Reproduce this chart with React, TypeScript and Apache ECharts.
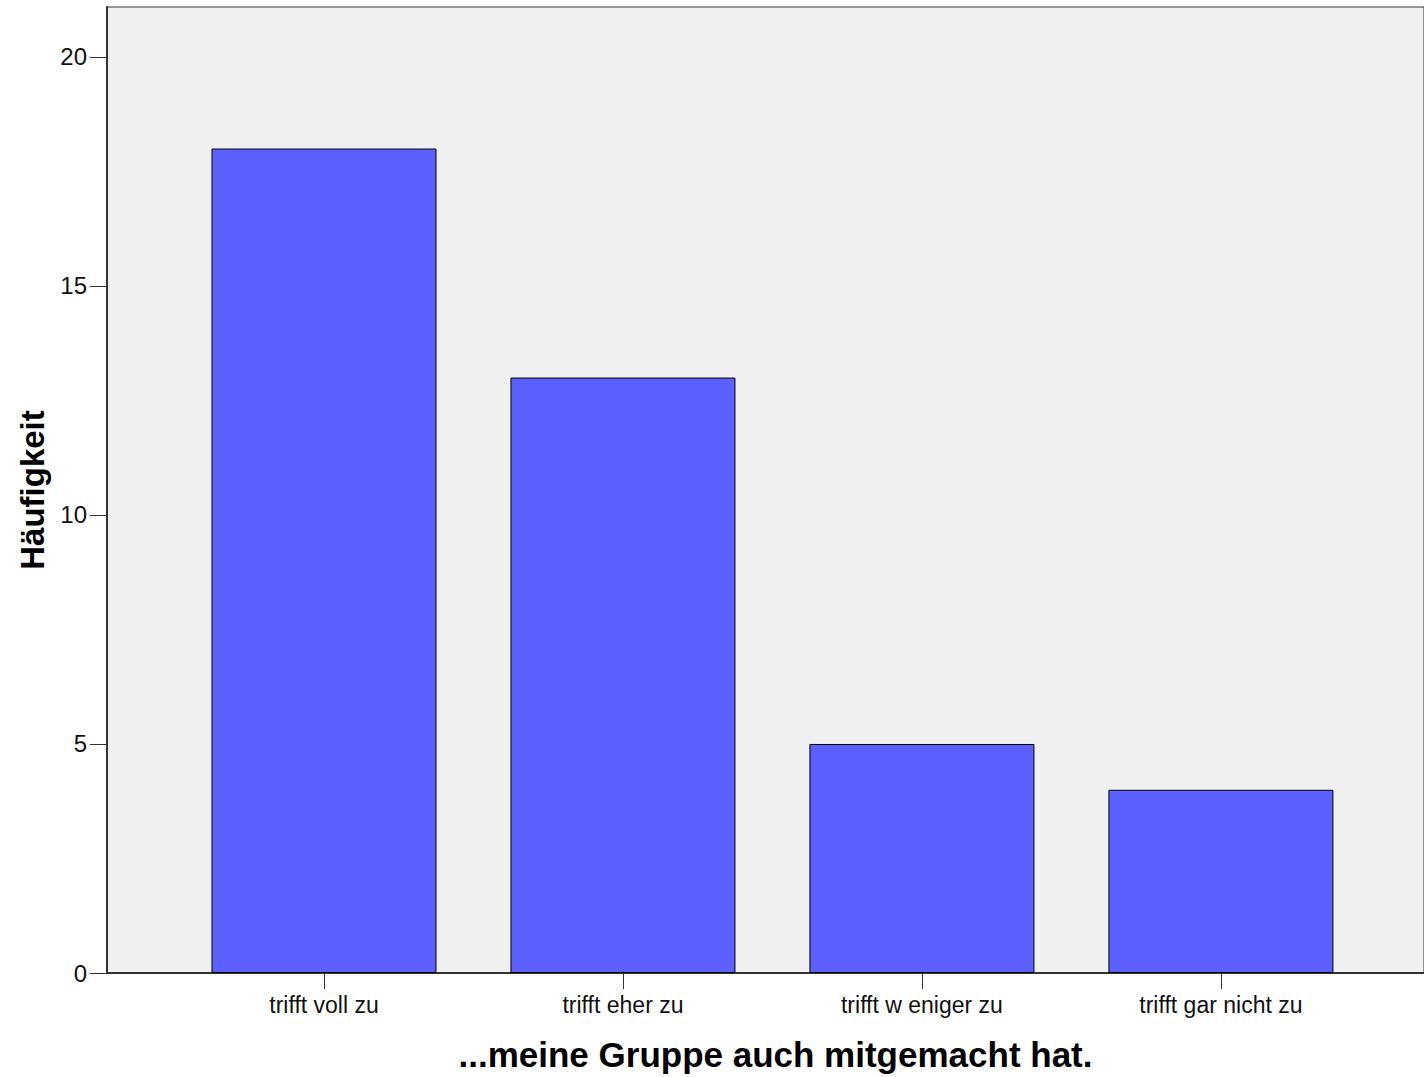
import React, { useEffect, useRef } from "react";
import * as echarts from "echarts";

const categories = ["trifft voll zu", "trifft eher zu", "trifft w eniger zu", "trifft gar nicht zu"];
const counts = [18, 13, 5, 4];
const yTicks = [0, 5, 10, 15, 20];
const xPositions = [1, 2, 3, 4];

export default function App() {
  const ref = useRef<HTMLDivElement>(null);
  useEffect(() => {
    if (!ref.current) return;
    const chart = echarts.init(ref.current, undefined, { renderer: "svg" });
    const font = "'Liberation Sans', Arial, sans-serif";
    chart.setOption({
      animation: false,
      backgroundColor: "#ffffff",
      grid: {
        left: 107,
        top: 7,
        right: -6,
        height: 974,
        show: true,
        backgroundColor: "#f0f0f0",
        borderColor: "#333333",
        borderWidth: 1,
      },
      xAxis: {
        type: "value",
        min: 0.2742,
        max: 4.6793,
        splitLine: { show: false },
        axisLine: { show: true, onZero: false, lineStyle: { color: "#333333", width: 2 } },
        axisTick: {
          show: true,
          customValues: xPositions,
          length: 16,
          lineStyle: { color: "#333333", width: 1 },
        },
        axisLabel: {
          customValues: xPositions,
          formatter: (v: number) => categories[Math.round(v) - 1] ?? "",
          color: "#111111",
          fontFamily: font,
          fontSize: 23,
          margin: 20,
        },
        name: "...meine Gruppe auch mitgemacht hat.",
        nameLocation: "middle",
        nameGap: 64,
        nameTextStyle: {
          fontFamily: font,
          fontSize: 35,
          fontWeight: "bold",
          color: "#000000",
          padding: [0, 0, 0, 20],
        },
      },
      yAxis: {
        type: "value",
        min: 0,
        max: 21.09,
        splitLine: { show: false },
        axisLine: { show: true, lineStyle: { color: "#333333", width: 2 } },
        axisTick: {
          show: true,
          customValues: yTicks,
          length: 17,
          lineStyle: { color: "#333333", width: 1 },
        },
        axisLabel: {
          customValues: yTicks,
          color: "#111111",
          fontFamily: font,
          fontSize: 24,
          margin: 20,
        },
        name: "Häufigkeit",
        nameLocation: "middle",
        nameGap: 58,
        nameTextStyle: { fontFamily: font, fontSize: 33, fontWeight: "bold", color: "#000000" },
      },
      series: [
        {
          type: "bar",
          barWidth: 225,
          data: counts.map((c, i) => [xPositions[i], c]),
          itemStyle: { color: "#5c60ff", borderColor: "#000000", borderWidth: 1 },
        },
      ],
    });
    return () => chart.dispose();
  }, []);
  return (
    <div
      ref={ref}
      style={{ position: "fixed", left: 0, top: 0, width: 1424, height: 1077 }}
    />
  );
}
